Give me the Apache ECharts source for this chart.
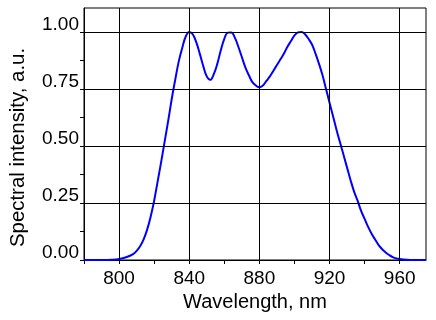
<!DOCTYPE html>
<html>
<head>
<meta charset="utf-8">
<script src="https://cdn.jsdelivr.net/npm/echarts@6/dist/echarts.min.js"></script>
<style>
  html, body { margin: 0; padding: 0; background: #fff; }
  #chart { width: 436px; height: 320px; }
</style>
</head>
<body>
<div id="chart"></div>
<script>
// wavelength (nm) and normalised spectral intensity
const wavelength = [780, 790, 796, 800, 804, 808, 810, 812, 814, 816, 818, 820, 822, 824, 826,
  828, 830, 832, 834, 836, 838, 840, 842, 844, 846, 848, 850, 852, 854, 856, 858, 860, 862,
  864, 866, 868, 870, 872, 874, 876, 878, 880, 882, 884, 886, 888, 890, 892, 894, 896, 898,
  900, 902, 904, 906, 908, 910, 912, 914, 916, 918, 920, 922, 924, 926, 928, 930, 932, 934,
  936, 938, 940, 942, 944, 946, 948, 950, 952, 954, 956, 958, 960, 964, 968, 975]
const intensity = [0, 0, 0.001, 0.004, 0.012, 0.026, 0.04, 0.06, 0.09, 0.133, 0.19, 0.26, 0.345,
  0.43, 0.52, 0.61, 0.705, 0.79, 0.87, 0.93, 0.98, 1.0, 0.99, 0.955, 0.905, 0.85, 0.805, 0.79,
  0.815, 0.86, 0.92, 0.97, 0.997, 0.998, 0.975, 0.935, 0.89, 0.845, 0.81, 0.78, 0.765, 0.757,
  0.765, 0.785, 0.805, 0.83, 0.855, 0.88, 0.905, 0.935, 0.96, 0.985, 0.998, 1.0, 0.99, 0.97,
  0.945, 0.905, 0.86, 0.81, 0.75, 0.69, 0.63, 0.57, 0.515, 0.46, 0.405, 0.35, 0.3, 0.26, 0.215,
  0.18, 0.145, 0.115, 0.09, 0.065, 0.047, 0.033, 0.022, 0.013, 0.007, 0.004, 0.001, 0, 0]

const xLabels = [800, 840, 880, 920, 960]
const xTicks = [780, 800, 820, 840, 860, 880, 900, 920, 940, 960]
const yLabels = [0, 0.25, 0.5, 0.75, 1.0]
const yTicks = [0, 0.125, 0.25, 0.375, 0.5, 0.625, 0.75, 0.875, 1.0]

const font = 'Liberation Sans, Arial, sans-serif'
const chart = echarts.init(document.getElementById('chart'))

chart.setOption({
  animation: false,
  backgroundColor: '#fff',
  grid: {
    left: 84, right: 10, top: 8, bottom: 60,
    show: true, borderColor: '#000', borderWidth: 1
  },
  xAxis: {
    type: 'value',
    min: 780,
    max: 975,
    name: 'Wavelength, nm',
    nameLocation: 'middle',
    nameGap: 30,
    nameTextStyle: { color: '#000', fontSize: 20, fontFamily: font },
    axisLine: { show: true, lineStyle: { color: '#000' } },
    axisTick: { show: true, length: 4, customValues: xTicks, lineStyle: { color: '#000' } },
    axisLabel: {
      customValues: xLabels,
      color: '#000', fontSize: 19, fontFamily: font, margin: 9
    },
    splitLine: { show: false }
  },
  yAxis: {
    type: 'value',
    min: 0,
    max: 1.105,
    name: 'Spectral intensity, a.u.',
    nameLocation: 'middle',
    nameGap: 56,
    // shift the rotated title a bit down along the axis
    nameTextStyle: { color: '#000', fontSize: 20.4, fontFamily: font, padding: [0, 27, 0, 0] },
    axisLine: { show: true, lineStyle: { color: '#000' } },
    axisTick: { show: true, length: 4, customValues: yTicks, lineStyle: { color: '#000' } },
    axisLabel: {
      customValues: yLabels,
      formatter: v => v.toFixed(2),
      color: '#000', fontSize: 19, fontFamily: font, margin: 5,
      verticalAlign: 'bottom', lineHeight: 15
    },
    splitLine: { show: false }
  },
  series: [{
    type: 'line',
    data: wavelength.map((w, i) => [w, intensity[i]]),
    smooth: 0.4,
    showSymbol: false,
    lineStyle: { color: '#0000ff', width: 2 },
    markLine: {
      silent: true,
      symbol: 'none',
      label: { show: false },
      lineStyle: { color: '#000', width: 1, type: 'solid' },
      data: [
        ...xLabels.map(v => ({ xAxis: v })),
        ...yLabels.filter(v => v > 0).map(v => ({ yAxis: v }))
      ]
    },
    z: 3
  }]
})
</script>
</body>
</html>
